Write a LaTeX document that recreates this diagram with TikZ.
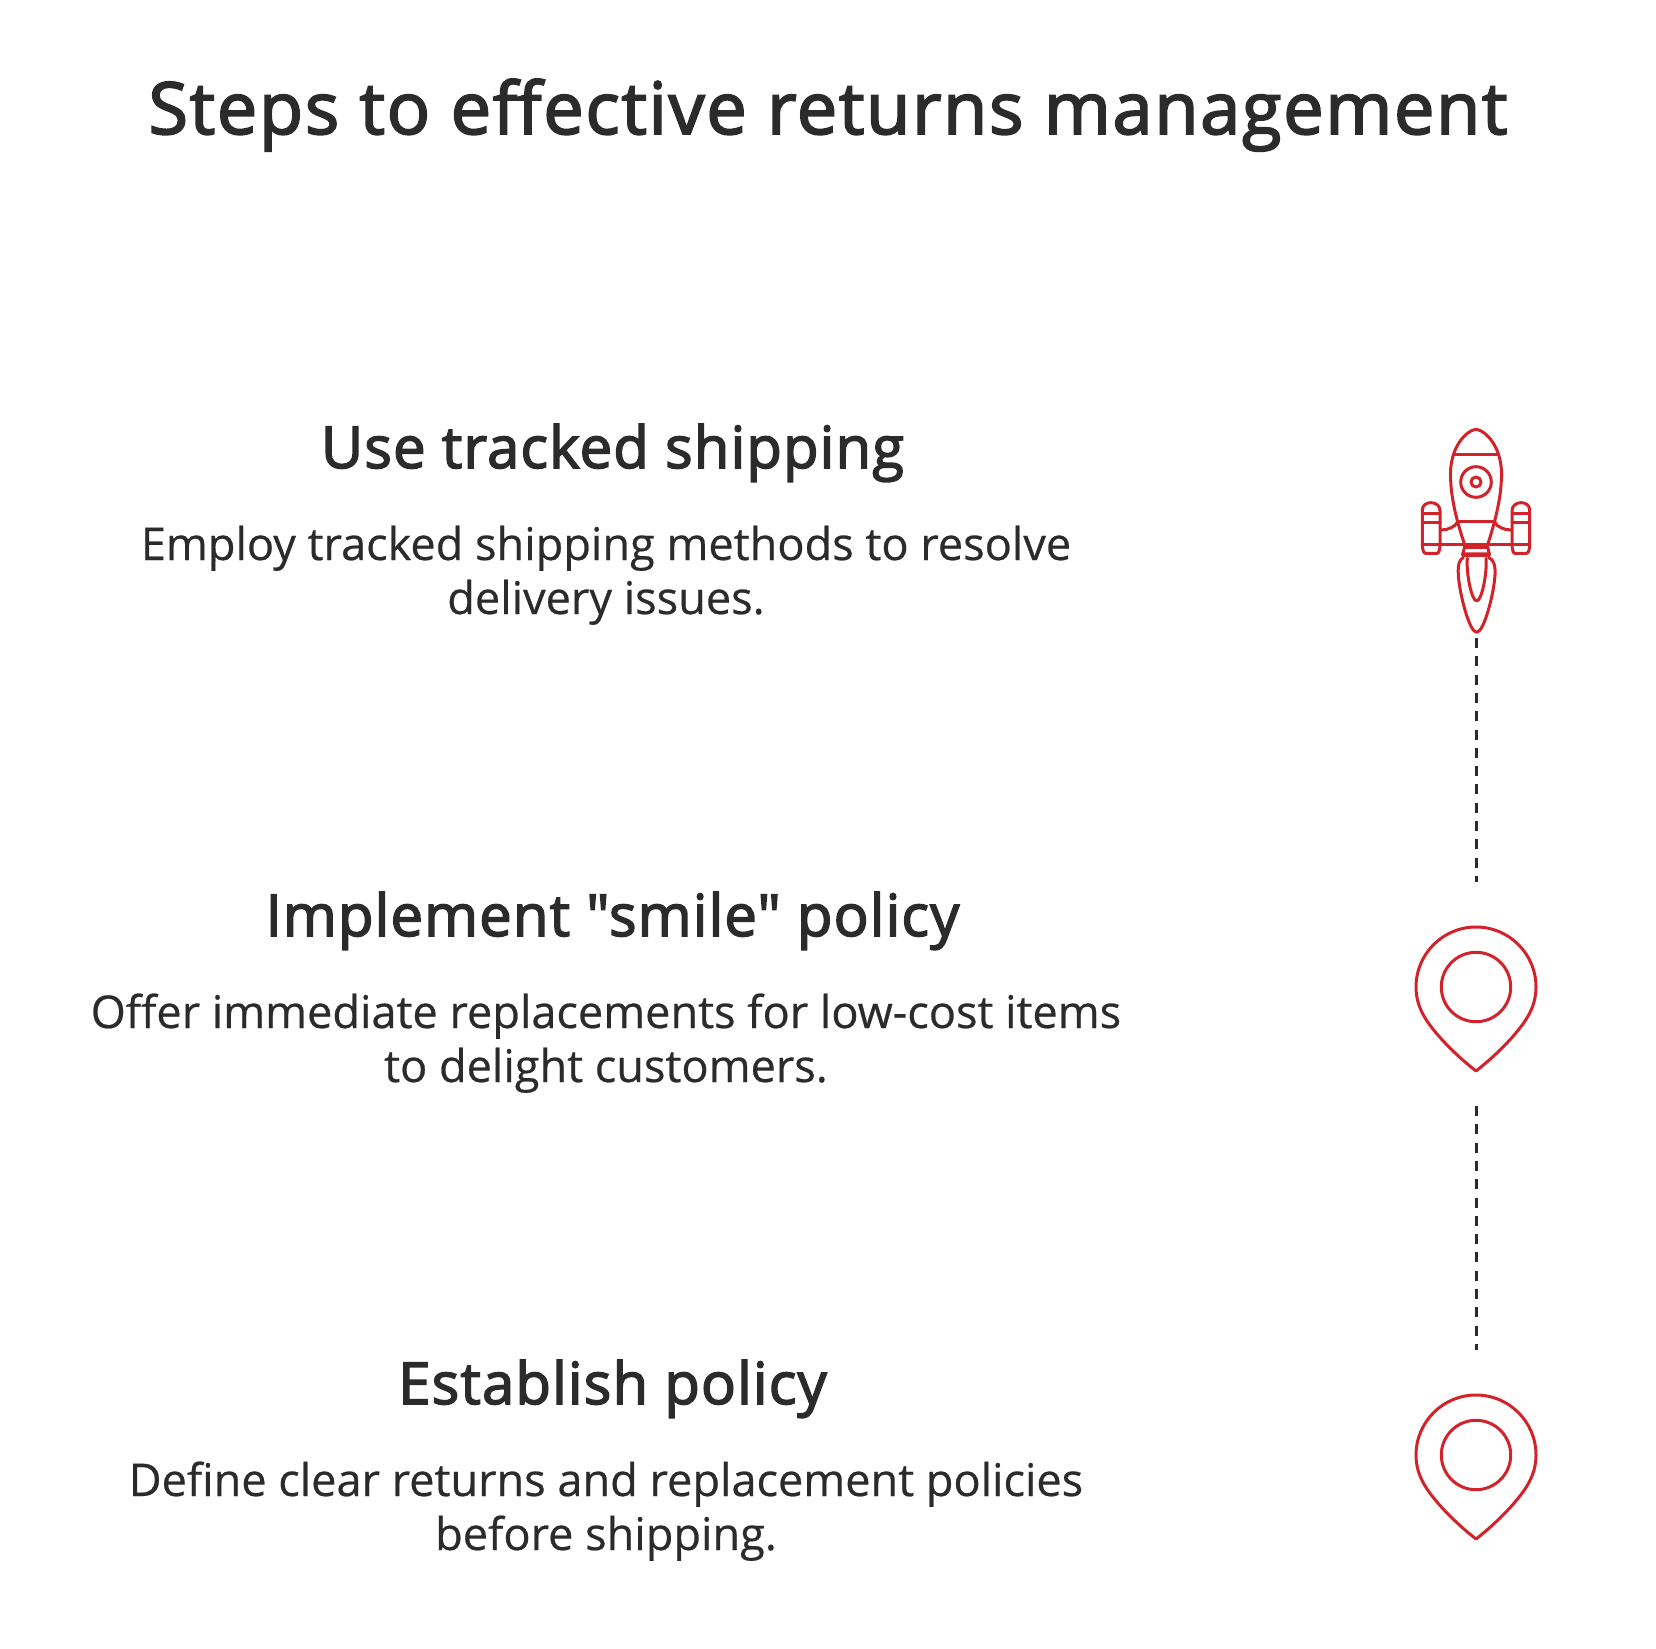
\documentclass[tikz,border=0pt]{standalone}
\usepackage{fontspec}
\newfontfamily\osreg{Open Sans}[FakeBold=0.5]
\newfontfamily\ostitle{Open Sans}[FakeBold=2.6,LetterSpace=2.4]
\newfontfamily\oshead{Open Sans}[FakeBold=2.6,LetterSpace=1.95]
\definecolor{ink}{HTML}{2B2B2B}
\definecolor{brand}{HTML}{D2232A}
\tikzset{
  titletext/.style={text=ink,inner sep=0pt,anchor=base,font=\ostitle\fontsize{72}{80}\selectfont},
  headtext/.style={text=ink,inner sep=0pt,anchor=base,font=\oshead\fontsize{58}{66}\selectfont},
  bodytext/.style={text=ink,inner sep=0pt,anchor=base,align=center,font=\osreg\fontsize{45.1}{54}\selectfont},
  icon/.style={draw=brand,line width=3pt,line join=round,line cap=round},
  link/.style={draw=ink,line width=3pt,dash pattern=on 10pt off 8.3pt}
}
\begin{document}
\begin{tikzpicture}[x=1pt,y=-1pt]
\useasboundingbox (0,0) rectangle (1656,1648);
\node[titletext] (title) at (828,134) {Steps to effective returns management};
\node[headtext] (h1) at (612.5,468) {Use tracked shipping};
\node[bodytext] (b1a) at (606,560) {Employ tracked shipping methods to resolve};
\node[bodytext] (b1b) at (606,614) {delivery issues.};
\node[headtext] (h2) at (612.5,936) {Implement "smile" policy};
\node[bodytext] (b2a) at (606,1028) {Offer immediate replacements for low-cost items};
\node[bodytext] (b2b) at (606,1082) {to delight customers.};
\node[headtext] (h3) at (612.5,1404) {Establish policy};
\node[bodytext] (b3a) at (606,1496) {Define clear returns and replacement policies};
\node[bodytext] (b3b) at (606,1550) {before shipping.};
% rocket
\begin{scope}[shift={(1380,400)},x=0.3333pt,y=-0.3333pt,icon]
\draw (288,88) .. controls (262,90) and (205,140) .. (212,240) .. controls (214,300) and (232,370) .. (255,437);
\draw (288,88) .. controls (314,90) and (371,140) .. (364,240) .. controls (362,300) and (344,370) .. (322,437);
\draw (222,165) -- (355,165);
\draw (232,365) -- (345,365);
\draw (288,246) circle[radius=15.3pt];
\draw (288,246) circle[radius=5pt];
\draw (127,435) -- (127,330) .. controls (127,315) and (140,308) .. (153,308) .. controls (168,308) and (180,318) .. (180,332) -- (180,435) .. controls (180,445) and (177,460) .. (172,460) -- (136,460) .. controls (130,460) and (127,445) .. (127,435);
\draw (127,340) -- (180,340) (127,368) -- (180,368);
\draw (449,435) -- (449,330) .. controls (449,315) and (436,308) .. (423,308) .. controls (408,308) and (396,318) .. (396,332) -- (396,435) .. controls (396,445) and (399,460) .. (404,460) -- (440,460) .. controls (446,460) and (449,445) .. (449,435);
\draw (396,340) -- (449,340) (396,368) -- (449,368);
\draw (127,435) -- (449,435);
\draw (183,390) .. controls (205,390) and (225,380) .. (232,367);
\draw (393,390) .. controls (371,390) and (351,380) .. (344,367);
\draw (255,437) -- (248,462) -- (328,462) -- (322,437) -- cycle;
\draw[line width=4.5pt] (258,440) -- (320,440);
\draw[line width=4.5pt] (250,465) -- (326,465);
\draw (250,473) .. controls (238,478) and (233,495) .. (235,525) .. controls (238,580) and (268,697) .. (290,697) .. controls (312,697) and (342,580) .. (345,525) .. controls (347,495) and (340,478) .. (326,473);
\draw (262,475) .. controls (258,520) and (275,603) .. (290,603) .. controls (305,603) and (322,520) .. (318,475);
\end{scope}
% pins
\coordinate (pinA) at (1476,987);
\coordinate (pinB) at (1476,1455);
\foreach \c in {pinA,pinB}{
  \begin{scope}[shift={(\c)},icon]
  \draw (0,84) .. controls (-14,73) and (-28,60) .. (-39,47) .. controls (-50,34) and (-60,20) .. (-60,0) .. controls (-60,-33.1) and (-33.1,-60) .. (0,-60) .. controls (33.1,-60) and (60,-33.1) .. (60,0) .. controls (60,20) and (50,34) .. (39,47) .. controls (28,60) and (14,73) .. (0,84) -- cycle;
  \draw (0,0) circle[radius=34.7pt];
  \end{scope}
}
% connectors
\coordinate (rocketend) at (1476,638);
\coordinate (pinAtop) at (1476,882);
\coordinate (pinAbot) at (1476,1106);
\coordinate (pinBtop) at (1476,1350);
\draw[link] (rocketend) -- (pinAtop);
\draw[link] (pinAbot) -- (pinBtop);
\end{tikzpicture}
\end{document}
